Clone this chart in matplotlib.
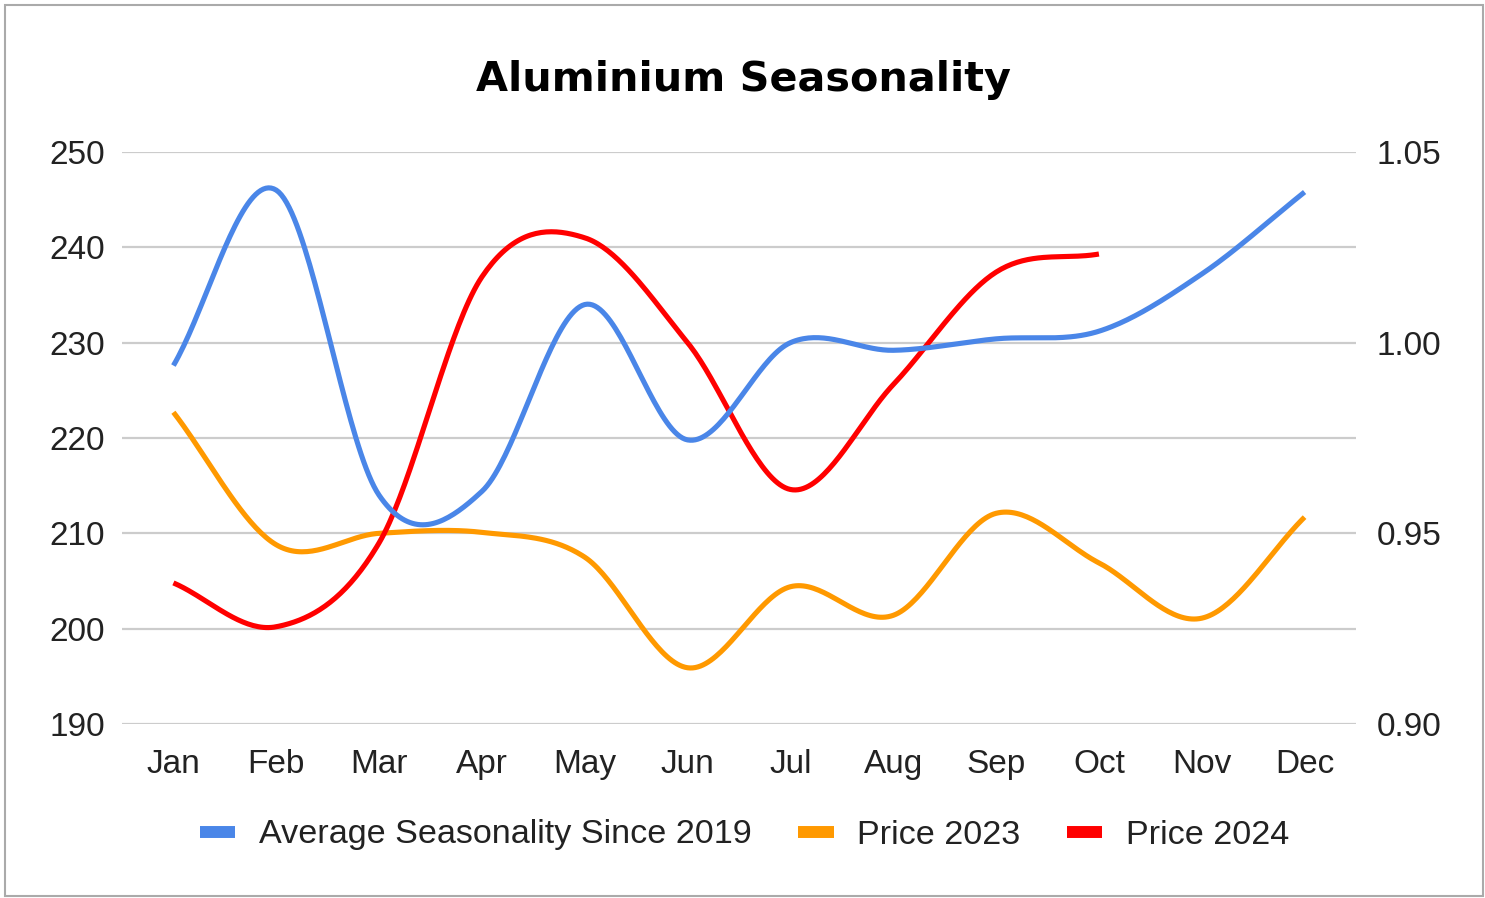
import numpy as np
import matplotlib
matplotlib.use("Agg")
import matplotlib.pyplot as plt
from matplotlib.lines import Line2D
from matplotlib.patches import Rectangle

months = ["Jan", "Feb", "Mar", "Apr", "May", "Jun", "Jul", "Aug", "Sep", "Oct", "Nov", "Dec"]
avg_seasonality = [0.994, 1.040, 0.960, 0.961, 1.010, 0.9745, 1.000, 0.998, 1.001, 1.003, 1.018, 1.0395]
price_2023 = [222.7, 208.8, 210.0, 210.1, 207.5, 195.9, 204.4, 201.4, 212.1, 206.9, 201.1, 211.7]
price_2024 = [204.8, 200.2, 209.0, 236.9, 241.0, 230.0, 214.6, 225.6, 237.4, 239.3]

left_ticks = [190, 200, 210, 220, 230, 240, 250]
right_ticks = [0.90, 0.95, 1.00, 1.05]
right_labels = ["0.90", "0.95", "1.00", "1.05"]

BLUE = "#4a86e8"
ORANGE = "#ff9900"
RED = "#ff0000"


def smooth(y, n=40):
    y = np.asarray(y, dtype=float)
    x = np.arange(len(y), dtype=float)
    m = np.empty_like(y)
    m[1:-1] = (y[2:] - y[:-2]) / 2.0
    m[0] = (y[1] - y[0])
    m[-1] = (y[-1] - y[-2])
    xs, ys = [], []
    for i in range(len(y) - 1):
        t = np.linspace(0, 1, n, endpoint=(i == len(y) - 2))
        h00 = 2 * t**3 - 3 * t**2 + 1
        h10 = t**3 - 2 * t**2 + t
        h01 = -2 * t**3 + 3 * t**2
        h11 = t**3 - t**2
        xs.append(x[i] + t)
        ys.append(h00 * y[i] + h10 * m[i] + h01 * y[i + 1] + h11 * m[i + 1])
    return np.concatenate(xs), np.concatenate(ys)


plt.rcParams["font.family"] = ["Liberation Sans", "DejaVu Sans"]

fig = plt.figure(figsize=(14.85, 8.98), dpi=100)
fig.patch.set_facecolor("white")

ax = fig.add_axes([122 / 1485, 1 - 724 / 898, (1356 - 122) / 1485, (724 - 152) / 898])
ax2 = ax.twinx()

ax.set_xlim(-0.5, 11.5)
ax.set_ylim(190, 250)
ax2.set_ylim(0.90, 1.05)

ax.set_yticks(left_ticks)
ax.set_yticklabels([str(v) for v in left_ticks])
ax2.set_yticks(right_ticks)
ax2.set_yticklabels(right_labels)
ax.set_xticks(range(len(months)))
ax.set_xticklabels(months)

ax.grid(axis="y", color="#cccccc", linewidth=1.6)
ax.set_axisbelow(True)
for a in (ax, ax2):
    for s in a.spines.values():
        s.set_visible(False)
ax.tick_params(axis="y", length=0, pad=12, labelsize=24, colors="#222222")
ax.tick_params(axis="x", length=0, pad=18, labelsize=24, colors="#222222")
ax2.tick_params(axis="y", length=0, pad=15, labelsize=24, colors="#222222")

lw = 3.7
xs, ys = smooth(price_2023)
ax.plot(xs, ys, color=ORANGE, lw=lw, solid_capstyle="butt", zorder=3)
xs, ys = smooth(price_2024)
ax.plot(xs, ys, color=RED, lw=lw, solid_capstyle="butt", zorder=4)
xs, ys = smooth(avg_seasonality)
ax2.plot(xs, ys, color=BLUE, lw=lw, solid_capstyle="butt", zorder=5)

fig.text(743 / 1485, 1 - 80 / 898, "Aluminium Seasonality", ha="center", va="center",
         fontsize=29.8, fontweight="bold", family="DejaVu Sans", color="black")

handles = [Line2D([], [], color=c, lw=8.6, solid_capstyle="butt") for c in (BLUE, ORANGE, RED)]
labels = ["Average Seasonality Since 2019", "Price 2023", "Price 2024"]
fig.legend(handles, labels, loc="center", bbox_to_anchor=(744.5 / 1485, 1 - 835 / 898), ncol=3,
           frameon=False, fontsize=24.6, handlelength=1.03, handletextpad=0.68, columnspacing=1.38,
           labelcolor="#222222")

fig.patches.append(Rectangle((4.5 / 1485, 1 - 896 / 898), (1483 - 4.5) / 1485, (896 - 4.5) / 898,
                             transform=fig.transFigure, fill=False, edgecolor="#aaaaaa", lw=1.5))

fig.savefig("out.png", dpi=100, facecolor="white")
